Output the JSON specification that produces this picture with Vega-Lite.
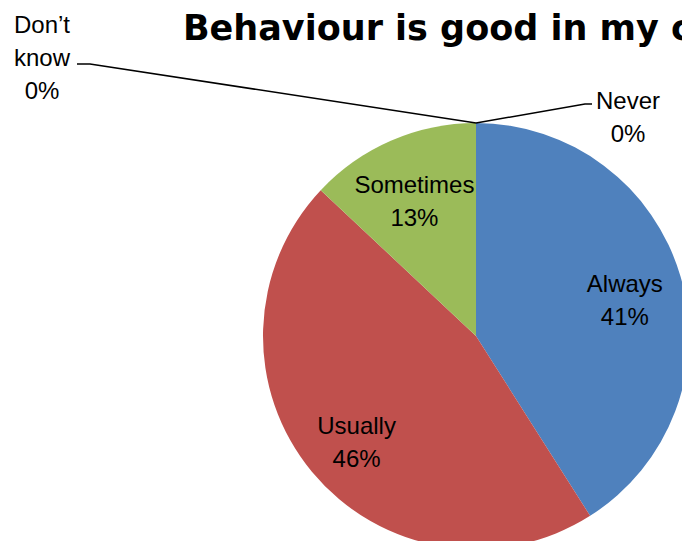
{
  "$schema": "https://vega.github.io/schema/vega-lite/v6.json",
  "width": 952,
  "height": 672,
  "autosize": {"type": "none"},
  "padding": 0,
  "background": "white",
  "title": {
    "text": "Behaviour is good in my class",
    "fontSize": 35,
    "font": "DejaVu Sans",
    "fontWeight": "bold",
    "anchor": "middle",
    "baseline": "alphabetic",
    "offset": -75,
    "color": "black"
  },
  "config": {"view": {"stroke": null}},
  "datasets": {
    "slices": [
      {"category": "Always", "value": 41, "idx": 1, "label": "Always\n41%"},
      {"category": "Usually", "value": 46, "idx": 2, "label": "Usually\n46%"},
      {"category": "Sometimes", "value": 13, "idx": 3, "label": "Sometimes\n13%"},
      {"category": "Never", "value": 0, "idx": 4, "label": "Never\n0%"},
      {"category": "Don’t know", "value": 0, "idx": 5, "label": "Don’t\nknow\n0%"}
    ],
    "leaders": [
      {"grp": "Never", "ord": 0, "px": 0, "py": 213},
      {"grp": "Never", "ord": 1, "px": 109, "py": 232},
      {"grp": "Never", "ord": 2, "px": 116, "py": 232},
      {"grp": "Don’t know", "ord": 0, "px": 0, "py": 213},
      {"grp": "Don’t know", "ord": 1, "px": -386, "py": 272},
      {"grp": "Don’t know", "ord": 2, "px": -399, "py": 272}
    ],
    "zerolabels": [
      {"label": "Never\n0%", "px": 152, "py": 234},
      {"label": "Don’t\nknow\n0%", "px": -434, "py": 310}
    ]
  },
  "layer": [
    {
      "data": {"name": "slices"},
      "mark": {"type": "arc", "outerRadius": 213},
      "encoding": {
        "theta": {"field": "value", "type": "quantitative", "stack": true},
        "order": {"field": "idx", "type": "quantitative"},
        "color": {
          "field": "category",
          "type": "nominal",
          "scale": {
            "domain": ["Always", "Usually", "Sometimes", "Never", "Don’t know"],
            "range": ["#4F81BD", "#C0504D", "#9BBB59", "#8064A2", "#4BACC6"]
          },
          "legend": null
        }
      }
    },
    {
      "data": {"name": "slices"},
      "transform": [{"filter": "datum.value > 0"}],
      "mark": {
        "type": "text",
        "radius": 155,
        "dy": -8,
        "fontSize": 24,
        "font": "Liberation Sans",
        "lineBreak": "\n",
        "lineHeight": 33,
        "color": "black",
        "align": "center",
        "baseline": "middle"
      },
      "encoding": {
        "theta": {"field": "value", "type": "quantitative", "stack": true},
        "order": {"field": "idx", "type": "quantitative"},
        "text": {"field": "label", "type": "nominal"}
      }
    },
    {
      "data": {"name": "leaders"},
      "mark": {"type": "line", "color": "black", "strokeWidth": 1.5},
      "encoding": {
        "x": {"field": "px", "type": "quantitative", "scale": {"domain": [-476, 476], "nice": false, "zero": false}, "axis": null},
        "y": {"field": "py", "type": "quantitative", "scale": {"domain": [-336, 336], "nice": false, "zero": false}, "axis": null},
        "detail": {"field": "grp", "type": "nominal"},
        "order": {"field": "ord", "type": "quantitative"}
      }
    },
    {
      "data": {"name": "zerolabels"},
      "mark": {
        "type": "text",
        "fontSize": 24,
        "font": "Liberation Sans",
        "lineBreak": "\n",
        "lineHeight": 33,
        "color": "black",
        "align": "center",
        "baseline": "middle"
      },
      "encoding": {
        "x": {"field": "px", "type": "quantitative", "scale": {"domain": [-476, 476], "nice": false, "zero": false}, "axis": null},
        "y": {"field": "py", "type": "quantitative", "scale": {"domain": [-336, 336], "nice": false, "zero": false}, "axis": null},
        "text": {"field": "label", "type": "nominal"}
      }
    }
  ]
}
